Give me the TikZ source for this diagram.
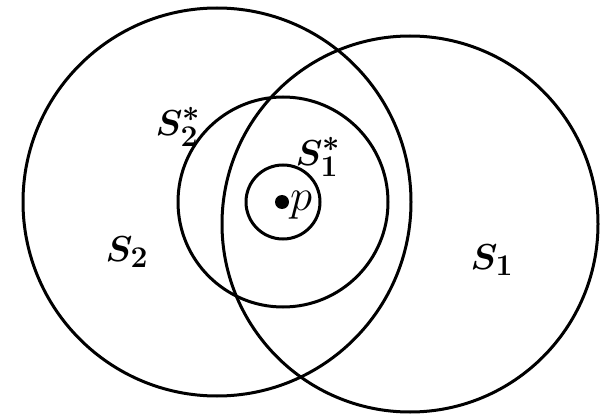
\documentclass[tikz,border=0pt]{standalone}
\usepackage{graphicx}
\newcommand{\biglbl}[1]{\scalebox{1.45}{\Huge\boldmath$#1$}}
\begin{document}
\begin{tikzpicture}[x=1pt,y=-1pt,
  ring/.style={circle, draw, line width=3pt, inner sep=0pt, outer sep=0pt},
  lbl/.style={inner sep=0pt}]
\useasboundingbox (0,0) rectangle (610,414);
\node[ring, minimum size=388pt] (s2) at (217,202) {};
\node[ring, minimum size=376pt] (s1) at (410,224) {};
\node[ring, minimum size=210pt] (s2star) at (283,202) {};
\node[ring, minimum size=74pt] (s1star) at (283,202) {};
\node[circle, fill, inner sep=0pt, minimum size=14pt] (p) at (282,202) {};
\node[inner sep=0pt, anchor=west] (plbl) at (290,205) {\scalebox{1.8}{\Huge$p$}};
\node[lbl] (ls2) at (127,252) {\biglbl{S_2}};
\node[lbl] (ls1) at (492,260) {\biglbl{S_1}};
\node[lbl] (ls2s) at (178,127) {\biglbl{S_2^*}};
\node[lbl] (ls1s) at (318,157) {\biglbl{S_1^*}};
\end{tikzpicture}
\end{document}
